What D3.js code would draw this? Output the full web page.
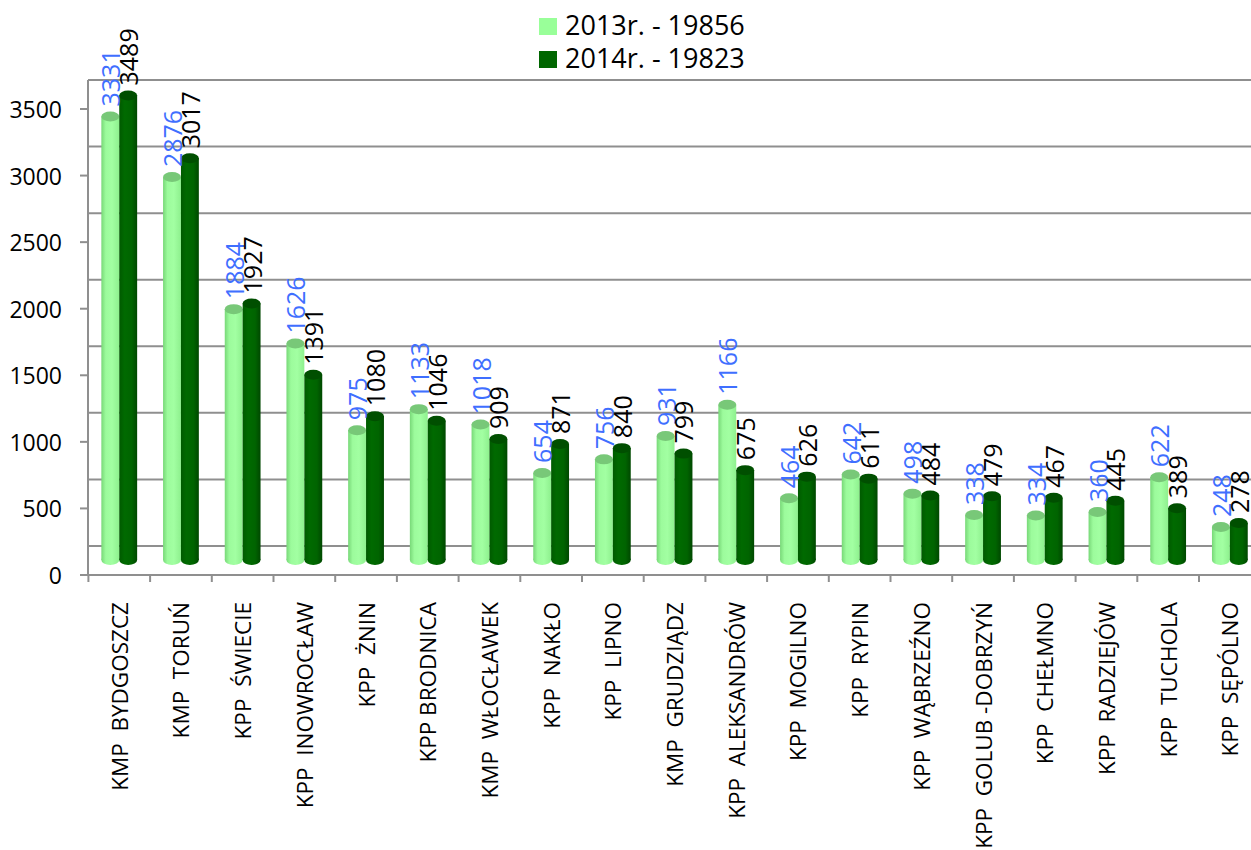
<!DOCTYPE html>
<html>
<head>
<meta charset="utf-8">
<script src="https://cdn.jsdelivr.net/npm/d3@7"></script>
<style>
  body { margin: 0; background: #fff; }
  text { font-family: "Open Sans", sans-serif; white-space: pre; }
</style>
</head>
<body>
<div id="chart"></div>
<script>
var categories = ["KMP  BYDGOSZCZ", "KMP  TORUŃ", "KPP  ŚWIECIE", "KPP  INOWROCŁAW", "KPP  ŻNIN",
  "KPP BRODNICA", "KMP  WŁOCŁAWEK", "KPP  NAKŁO", "KPP  LIPNO", "KMP  GRUDZIĄDZ",
  "KPP  ALEKSANDRÓW", "KPP  MOGILNO", "KPP  RYPIN", "KPP  WĄBRZEŹNO", "KPP  GOLUB -DOBRZYŃ",
  "KPP  CHEŁMNO", "KPP  RADZIEJÓW", "KPP  TUCHOLA", "KPP  SĘPÓLNO"];
var values2013 = [3331, 2876, 1884, 1626, 975, 1133, 1018, 654, 756, 931, 1166, 464, 642, 498, 338, 334, 360, 622, 248];
var values2014 = [3489, 3017, 1927, 1391, 1080, 1046, 909, 871, 840, 799, 675, 626, 611, 484, 479, 467, 445, 389, 278];
var seriesNames = ["2013r. - 19856", "2014r. - 19823"];
var yTicks = [0, 500, 1000, 1500, 2000, 2500, 3000, 3500];

(function() {
  var width = 1251, height = 850;
  var svg = d3.select("#chart").append("svg")
    .attr("width", width).attr("height", height);

  var x = d3.scaleBand().domain(categories).range([88.4, 1260.7]).padding(0);
  var y = d3.scaleLinear().domain([0, 3500]).range([575, 109]);
  var backShift = 29, barShift = 15;
  var barW = x.bandwidth() * 0.29, ry = 5;

  var defs = svg.append("defs");
  function grad(id, stops) {
    var g = defs.append("linearGradient").attr("id", id)
      .attr("x1", "0%").attr("x2", "100%").attr("y1", "0%").attr("y2", "0%");
    stops.forEach(function(s) {
      g.append("stop").attr("offset", s[0]).attr("stop-color", s[1]);
    });
  }
  grad("gLight", [["0%", "#78d878"], ["25%", "#9cfb9c"], ["60%", "#a2ffa2"], ["100%", "#8ef08e"]]);
  grad("gDark", [["0%", "#005a00"], ["30%", "#006a00"], ["70%", "#006400"], ["100%", "#004800"]]);

  // back wall gridlines
  svg.selectAll(".grid").data(yTicks).enter().append("line")
    .attr("x1", 88).attr("x2", width)
    .attr("y1", function(d) { return y(d) - backShift; })
    .attr("y2", function(d) { return y(d) - backShift; })
    .attr("stroke", "#8f8f8f").attr("stroke-width", 2);

  // left axis
  svg.append("line").attr("x1", 88).attr("x2", 88)
    .attr("y1", y(3500) - backShift).attr("y2", y(0))
    .attr("stroke", "#8f8f8f").attr("stroke-width", 2);
  svg.selectAll(".ytick").data(yTicks).enter().append("line")
    .attr("x1", 80).attr("x2", 88)
    .attr("y1", function(d) { return y(d); }).attr("y2", function(d) { return y(d); })
    .attr("stroke", "#8f8f8f").attr("stroke-width", 2);
  svg.selectAll(".ylab").data(yTicks).enter().append("text")
    .attr("x", 62).attr("y", function(d) { return y(d); })
    .attr("text-anchor", "end").attr("dominant-baseline", "central")
    .attr("font-size", 23).attr("fill", "#000")
    .text(function(d) { return d; });

  // bottom axis
  svg.append("line").attr("x1", 87).attr("x2", width)
    .attr("y1", y(0)).attr("y2", y(0))
    .attr("stroke", "#8f8f8f").attr("stroke-width", 2);
  svg.selectAll(".xtick").data(categories).enter().append("line")
    .attr("x1", function(d) { return x(d); }).attr("x2", function(d) { return x(d); })
    .attr("y1", y(0)).attr("y2", y(0) + 7)
    .attr("stroke", "#8f8f8f").attr("stroke-width", 2);
  svg.selectAll(".xlab").data(categories).enter().append("text")
    .attr("transform", function(d) {
      return "translate(" + (x(d) + x.bandwidth() / 2) + ",602) rotate(-90)";
    })
    .attr("text-anchor", "end").attr("dominant-baseline", "central")
    .attr("font-size", 22.5).attr("fill", "#000")
    .text(function(d) { return d; });

  // cylinders
  var bars = [];
  categories.forEach(function(c, i) {
    bars.push({ cat: c, v: values2013[i], s: 0 });
    bars.push({ cat: c, v: values2014[i], s: 1 });
  });
  function cx(d) { return x(d.cat) + x.bandwidth() / 2 + (d.s === 0 ? -barW / 2 : barW / 2); }
  function top(d) { return y(d.v) - barShift; }
  var base = y(0) - barShift;

  var g = svg.selectAll(".bar").data(bars).enter().append("g");
  g.append("ellipse")
    .attr("cx", cx).attr("cy", base).attr("rx", barW / 2).attr("ry", ry)
    .attr("fill", function(d) { return d.s === 0 ? "url(#gLight)" : "url(#gDark)"; });
  g.append("rect")
    .attr("x", function(d) { return cx(d) - barW / 2; })
    .attr("y", top).attr("width", barW)
    .attr("height", function(d) { return base - top(d); })
    .attr("fill", function(d) { return d.s === 0 ? "url(#gLight)" : "url(#gDark)"; });
  g.append("ellipse")
    .attr("cx", cx).attr("cy", top).attr("rx", barW / 2).attr("ry", ry)
    .attr("fill", function(d) { return d.s === 0 ? "#78c878" : "#004f00"; });

  // value labels
  svg.selectAll(".val").data(bars).enter().append("text")
    .attr("transform", function(d) {
      return "translate(" + cx(d) + "," + (top(d) - ry - 5) + ") rotate(-90)";
    })
    .attr("text-anchor", "start").attr("dominant-baseline", "central")
    .attr("font-size", 25)
    .attr("fill", function(d) { return d.s === 0 ? "#3f6fff" : "#000"; })
    .text(function(d) { return d.v; });

  // legend
  var legColors = ["#99ff99", "#006600"];
  var leg = svg.selectAll(".leg").data(seriesNames).enter().append("g")
    .attr("transform", function(d, i) { return "translate(539," + (18 + i * 33) + ")"; });
  leg.append("rect").attr("width", 18).attr("height", 17)
    .attr("fill", function(d, i) { return legColors[i]; });
  leg.append("text").attr("x", 26).attr("y", 17)
    .attr("font-size", 27).attr("fill", "#000")
    .text(function(d) { return d; });
})();
</script>
</body>
</html>
